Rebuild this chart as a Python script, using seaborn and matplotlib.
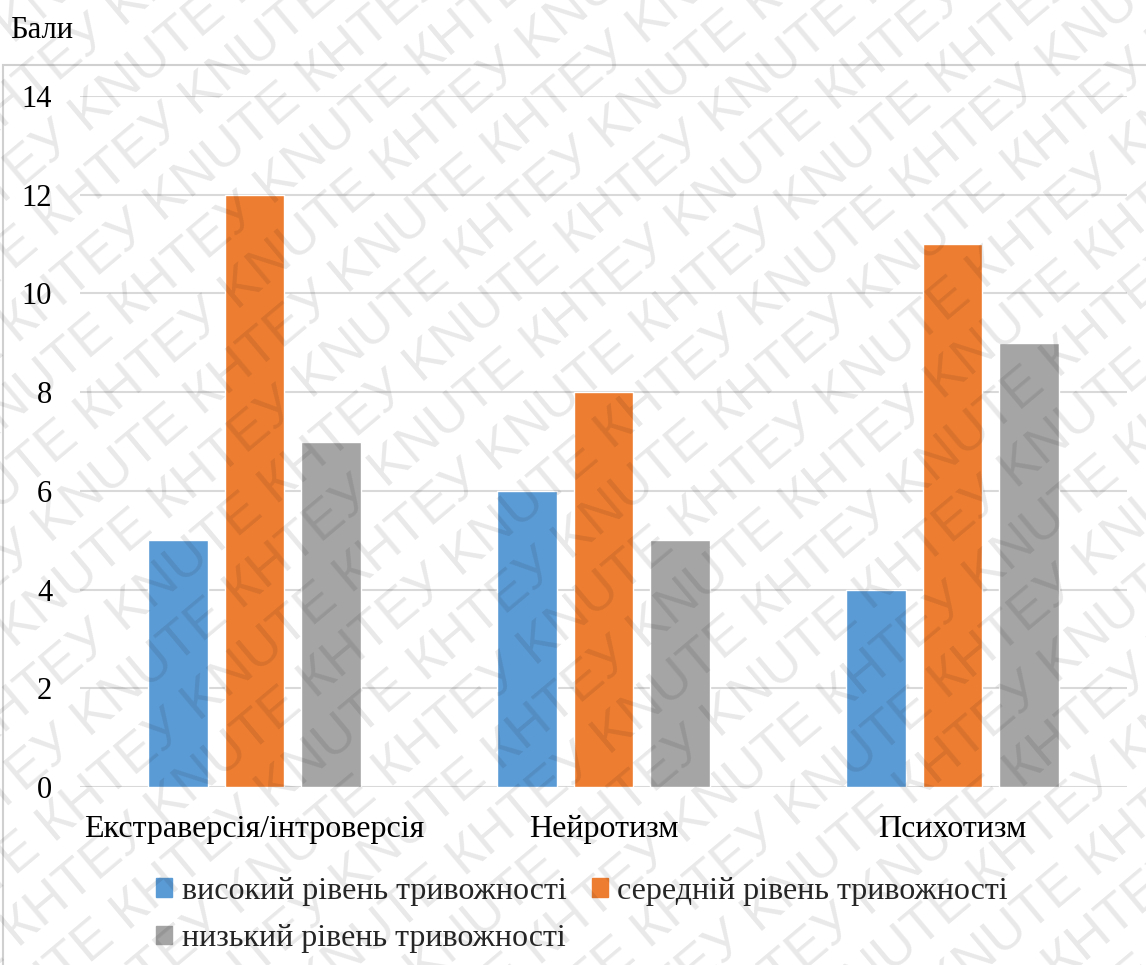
import numpy as np
import pandas as pd
import matplotlib
matplotlib.use("Agg")
import matplotlib.pyplot as plt
from matplotlib.patches import Rectangle
import seaborn as sns

# Scale data
categories = ["Екстраверсія/інтроверсія", "Нейротизм", "Психотизм"]
levels = ["високий рівень тривожності", "середній рівень тривожності", "низький рівень тривожності"]
high_values = [5, 6, 4]
mid_values = [12, 8, 11]
low_values = [7, 5, 9]
y_ticks = [0, 2, 4, 6, 8, 10, 12, 14]
y_label = "Бали"
watermark = "КНТЕУ KNUTE "

colors = ["#5B9BD5", "#ED7D31", "#A5A5A5"]

df = pd.DataFrame({
    "category": categories * 3,
    "level": [levels[0]] * 3 + [levels[1]] * 3 + [levels[2]] * 3,
    "value": high_values + mid_values + low_values,
})

SERIF = "Liberation Serif"
SANS = "Liberation Sans"

sns.set_theme(style="white")
plt.rcParams["font.family"] = "serif"
plt.rcParams["font.serif"] = [SERIF, "DejaVu Serif"]

W, H = 1146, 965
fig = plt.figure(figsize=(W / 100, H / 100), dpi=100)
ax = fig.add_axes([80 / W, 1 - 787 / H, (1127 - 80) / W, (787 - 96) / H])

sns.barplot(data=df, x="category", y="value", hue="level", order=categories,
            hue_order=levels, palette=colors, width=0.66, gap=0.22,
            saturation=1, errorbar=None, ax=ax, legend=False, zorder=2)

ax.set_xlim(-0.5, 2.5)
ax.set_ylim(0, 14)
ax.set_yticks(y_ticks)
ax.set_yticklabels([str(t) for t in y_ticks], fontfamily=SERIF)
ax.set_xticks(range(len(categories)))
ax.set_xticklabels(categories, fontfamily=SERIF)
ax.grid(axis="y", color="#d9d9d9", linewidth=1.5, zorder=0)
ax.set_axisbelow(True)
for s in ax.spines.values():
    s.set_visible(False)
ax.tick_params(axis="y", length=0, pad=20, labelsize=22, labelcolor="black")
ax.tick_params(axis="x", length=0, pad=20, labelsize=23, labelcolor="black")
ax.set_xlabel("")
ax.set_ylabel("")

# Outer chart frame and unit label
fig.patches.append(Rectangle((3 / W, -0.05), 1.1, 1 - 65 / H + 0.05,
                             transform=fig.transFigure, fill=False,
                             edgecolor="#d0d0d0", linewidth=1.5))
fig.text(10 / W, 1 - 30 / H, y_label, fontsize=22, ha="left", va="center",
         color="black", fontfamily=SERIF)

# Legend: first row high/mid, second row low
handles = [Rectangle((0, 0), 1, 1, color=c) for c in colors]
order = [0, 2, 1]
fig.legend([handles[i] for i in order], [levels[i] for i in order],
           loc="upper center", bbox_to_anchor=(582 / W, 1 - 864 / H),
           ncol=2, frameon=False, prop={"family": SERIF, "size": 23},
           handlelength=0.5, handleheight=0.5, handletextpad=0.3,
           columnspacing=0.8, labelspacing=0.58, borderaxespad=0)

# Diagonal watermark tiling on a full-figure overlay
wm = fig.add_axes([0, 0, 1, 1], zorder=10)
wm.set_xlim(0, W)
wm.set_ylim(0, H)
wm.axis("off")
wm.patch.set_alpha(0)
angle = 40
theta = np.deg2rad(angle)
d = np.array([np.cos(theta), np.sin(theta)])
n = np.array([-np.sin(theta), np.cos(theta)])
center = np.array([W / 2, H / 2])
spacing = 58
for k in range(-19, 20):
    p = center + k * spacing * n - 1500 * d + (k % 2) * 95 * d
    wm.text(p[0], p[1], watermark * 12, rotation=angle, rotation_mode="anchor",
            ha="left", va="baseline", fontsize=39, color="black", alpha=0.09,
            fontfamily=SANS, clip_on=True)

fig.savefig("out.png", dpi=100)
